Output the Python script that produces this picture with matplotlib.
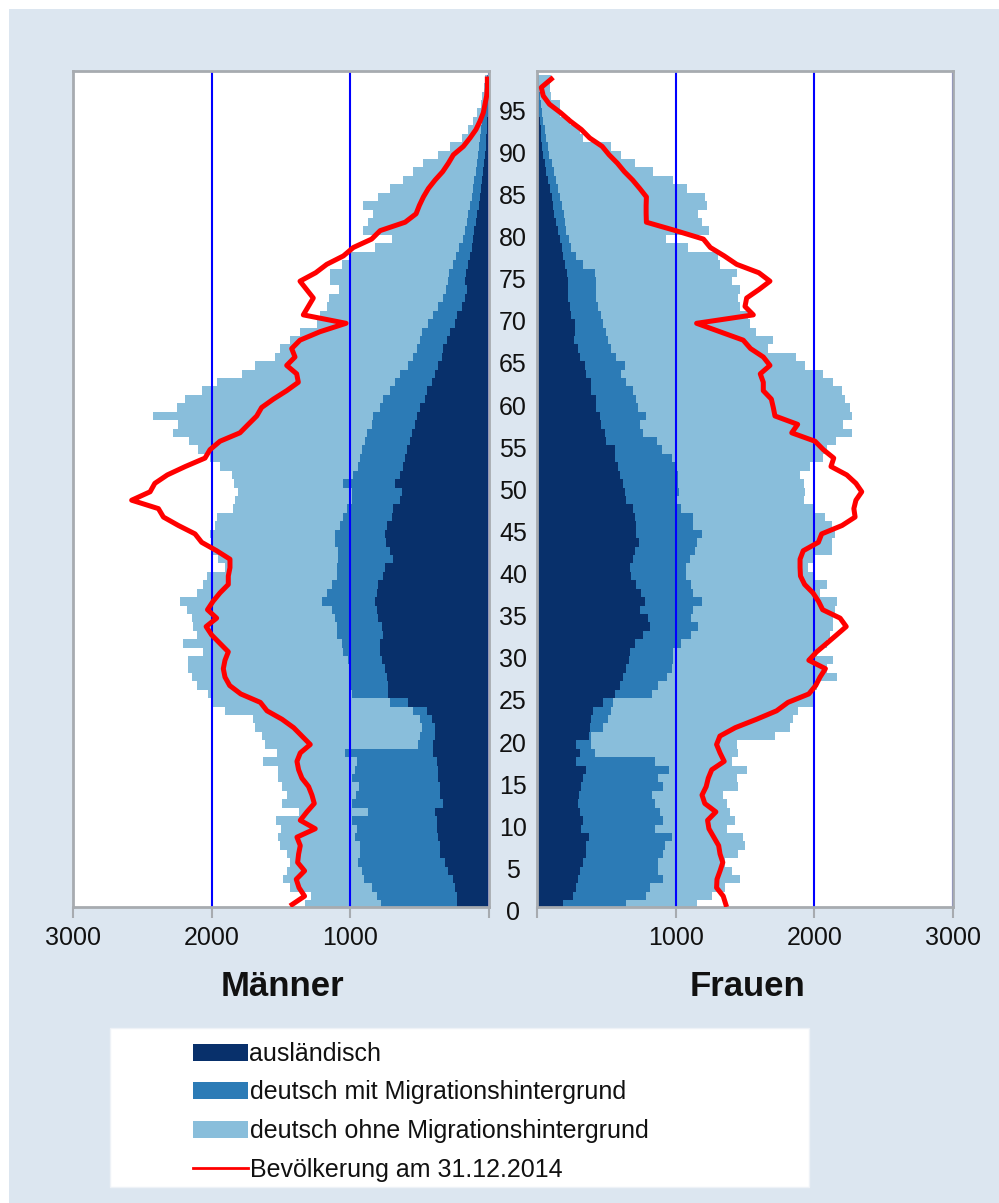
import numpy as np
import matplotlib
matplotlib.use("Agg")
import matplotlib.pyplot as plt
from matplotlib.patches import Rectangle, Patch
from matplotlib.lines import Line2D
import matplotlib.transforms as mtransforms

plt.rcParams['font.family'] = ['Liberation Sans', 'DejaVu Sans']

# Altersjahre 1..99
ages = np.arange(1, 100)

# Männer: ausländisch / deutsch mit MH / deutsch ohne MH (kumulierte Grenzen aus dem Bild gelesen)
m_ausl = [233, 233, 245, 257, 293, 317, 353, 353, 365, 377,
          377, 389, 329, 353, 353, 365, 365, 377, 401, 401,
          389, 389, 413, 449, 582, 725, 725, 737, 749, 773,
          785, 785, 761, 773, 797, 809, 821, 809, 797, 761,
          749, 689, 713, 742, 749, 737, 701, 689, 641, 629,
          677, 641, 617, 605, 593, 569, 557, 533, 521, 497,
          461, 449, 413, 389, 365, 341, 329, 305, 281, 245,
          233, 197, 173, 161, 173, 165, 150, 140, 125, 113,
          105, 95, 85, 75, 65, 58, 52, 45, 37, 29,
          25, 20, 17, 14, 10, 8, 6, 5, 4]
m_mit_cum = [778, 809, 845, 905, 918, 942, 930, 930, 966, 954,
             990, 870, 990, 960, 940, 990, 966, 954, 1038, 509,
             497, 485, 497, 545, 713, 985, 997, 1002, 1002, 1014,
             1050, 1062, 1098, 1098, 1110, 1134, 1206, 1170, 1134, 1098,
             1098, 1086, 1086, 1110, 1110, 1074, 1050, 1026, 990, 990,
             1050, 978, 942, 930, 918, 894, 882, 846, 834, 785,
             761, 713, 677, 641, 581, 545, 521, 497, 485, 437,
             401, 365, 329, 310, 293, 290, 257, 240, 215, 185,
             175, 160, 150, 140, 125, 115, 105, 95, 85, 77,
             70, 62, 55, 48, 41, 35, 28, 22, 18]
m_total = [1327, 1286, 1435, 1483, 1459, 1435, 1459, 1507, 1519, 1502,
           1536, 1368, 1495, 1459, 1495, 1519, 1519, 1628, 1531, 1616,
           1640, 1688, 1700, 1904, 2000, 2030, 2108, 2144, 2168, 2168,
           2060, 2204, 2108, 2132, 2144, 2180, 2228, 2108, 2060, 2036,
           1904, 1952, 1988, 2000, 2012, 1976, 1964, 1844, 1832, 1808,
           1840, 1853, 1937, 2010, 2095, 2167, 2276, 2240, 2420, 2250,
           2190, 2070, 1962, 1781, 1685, 1541, 1505, 1433, 1361, 1241,
           1218, 1170, 1157, 1085, 1150, 1146, 1062, 1002, 822, 700,
           906, 870, 834, 906, 798, 714, 618, 545, 473, 365,
           281, 197, 150, 113, 85, 60, 50, 35, 30]
m_2014 = [1420, 1330, 1370, 1390, 1330, 1380, 1373, 1361, 1385, 1253,
          1361, 1313, 1260, 1277, 1301, 1349, 1373, 1385, 1361, 1289,
          1349, 1409, 1493, 1601, 1649, 1790, 1870, 1904, 1916, 1904,
          1880, 1940, 2000, 2040, 1964, 2030, 1990, 1940, 1880, 1880,
          1868, 1868, 1964, 2072, 2120, 2240, 2348, 2384, 2577, 2444,
          2410, 2320, 2190, 2048, 2012, 1940, 1796, 1736, 1675, 1640,
          1555, 1459, 1375, 1387, 1459, 1399, 1423, 1363, 1219, 1031,
          1339, 1303, 1267, 1315, 1363, 1250, 1170, 1050, 978, 846,
          785, 605, 526, 502, 473, 437, 389, 334, 293, 257,
          185, 137, 94, 65, 41, 29, 17, 12, 12]

# Frauen
f_ausl = [188, 260, 284, 296, 308, 332, 351, 356, 375, 320,
          332, 308, 296, 303, 320, 332, 356, 284, 308, 284,
          375, 380, 392, 404, 477, 561, 597, 621, 645, 664,
          669, 705, 765, 814, 801, 741, 777, 753, 717, 681,
          669, 693, 705, 737, 717, 712, 705, 693, 645, 633,
          621, 597, 585, 561, 561, 501, 489, 465, 453, 424,
          428, 392, 392, 356, 344, 308, 296, 265, 272, 272,
          248, 236, 224, 224, 224, 217, 200, 188, 180, 165,
          150, 135, 125, 115, 105, 95, 80, 68, 55, 45,
          38, 32, 26, 20, 16, 13, 10, 8, 8]
f_mit_cum = [645, 789, 814, 910, 874, 874, 910, 922, 970, 850,
             910, 886, 850, 826, 910, 874, 953, 850, 416, 392,
             392, 477, 513, 537, 549, 826, 874, 934, 970, 982,
             982, 1042, 1114, 1163, 1114, 1126, 1187, 1126, 1114, 1078,
             1078, 1102, 1139, 1151, 1187, 1126, 1126, 1042, 1006, 1025,
             1020, 1018, 994, 970, 898, 862, 765, 741, 789, 729,
             717, 693, 645, 609, 633, 573, 537, 513, 501, 477,
             465, 440, 424, 428, 428, 416, 332, 284, 248, 230,
             212, 205, 192, 180, 168, 155, 138, 122, 105, 90,
             78, 68, 55, 43, 37, 30, 25, 18, 15]
f_total = [1155, 1259, 1355, 1463, 1403, 1355, 1451, 1500, 1488, 1367,
           1427, 1391, 1367, 1343, 1451, 1439, 1512, 1403, 1451, 1439,
           1716, 1825, 1849, 1885, 1993, 1993, 2017, 2161, 2089, 2137,
           2017, 2089, 2113, 2137, 2137, 2149, 2161, 2041, 2089, 2005,
           1957, 1993, 2125, 2125, 2149, 2125, 2077, 2005, 1926, 1933,
           1925, 1897, 1969, 2065, 2089, 2157, 2270, 2205, 2270, 2258,
           2222, 2198, 2137, 2065, 1933, 1868, 1668, 1704, 1579, 1536,
           1524, 1463, 1451, 1463, 1403, 1444, 1319, 1307, 1090, 930,
           1242, 1187, 1163, 1228, 1211, 1083, 982, 838, 705, 609,
           537, 332, 308, 236, 164, 164, 99, 91, 103]
f_2014 = [1362, 1343, 1295, 1298, 1320, 1340, 1320, 1310, 1275, 1240,
          1230, 1290, 1210, 1190, 1220, 1235, 1260, 1350, 1320, 1295,
          1319, 1430, 1584, 1728, 1810, 1960, 2010, 2041, 2080, 1960,
          2017, 2089, 2160, 2230, 2186, 2060, 2030, 1990, 1930, 1900,
          1897, 1897, 1920, 2029, 2053, 2200, 2294, 2285, 2300, 2342,
          2300, 2234, 2120, 2140, 2065, 2005, 1837, 1880, 1716, 1704,
          1690, 1632, 1632, 1610, 1680, 1632, 1540, 1487, 1319, 1151,
          1560, 1500, 1512, 1600, 1680, 1600, 1440, 1350, 1250, 1200,
          1000, 789, 787, 787, 789, 741, 690, 630, 580, 520,
          470, 380, 320, 240, 170, 90, 45, 31, 103]

labels = ["ausländisch", "deutsch mit Migrationshintergrund",
          "deutsch ohne Migrationshintergrund", "Bevölkerung am 31.12.2014"]
colors = ["#08306b", "#2c7bb6", "#89bedb"]
bg = "#dce6f0"

W, H = 999, 1203
fig = plt.figure(figsize=(W / 100, H / 100), dpi=100, facecolor="white")
fig.patches.append(Rectangle((9 / W, 0), 1, 1 - 9 / H, transform=fig.transFigure,
                             facecolor=bg, edgecolor="none", zorder=-10))

def px_axes(x0, y0, x1, y1):
    return fig.add_axes([x0 / W, 1 - y1 / H, (x1 - x0) / W, (y1 - y0) / H])

ax_m = px_axes(73, 71, 489, 907)
ax_f = px_axes(537, 71, 953, 907)

def draw_side(ax, ausl, mit_cum, total, line2014, grid_vals):
    ausl = np.array(ausl)
    mit_cum = np.array(mit_cum)
    total = np.array(total)
    ax.barh(ages, ausl, height=1.0, color=colors[0], linewidth=0, zorder=1)
    ax.barh(ages, mit_cum - ausl, left=ausl, height=1.0, color=colors[1], linewidth=0, zorder=1)
    ax.barh(ages, total - mit_cum, left=mit_cum, height=1.0, color=colors[2], linewidth=0, zorder=1)
    for g in grid_vals:
        ax.axvline(g, color="#0000ff", lw=1.5, zorder=2)
    ax.plot(line2014, ages, color="#ff0000", lw=3.6, zorder=3, solid_joinstyle="round")
    ax.set_ylim(0.71, 99.95)
    ax.set_yticks([])
    ax.set_xticks([0, 1000, 2000, 3000])
    ax.tick_params(axis="x", direction="out", length=8, width=1.5, color="#a7abb0",
                   labelsize=18, pad=6, labelcolor="#111111")
    for s in ax.spines.values():
        s.set_color("#a7abb0")
        s.set_linewidth(2)
    ax.set_facecolor("white")

draw_side(ax_m, m_ausl, m_mit_cum, m_total, m_2014, [0, 1000, 2000])
ax_m.set_xlim(3000, 0)
ax_m.set_xticklabels(["", "1000", "2000", "3000"])

draw_side(ax_f, f_ausl, f_mit_cum, f_total, f_2014, [1000, 2000, 3000])
ax_f.set_xlim(0, 3000)
ax_f.set_xticklabels(["", "1000", "2000", "3000"])

# Altersbeschriftung in der Mitte
trans = mtransforms.blended_transform_factory(fig.transFigure, ax_f.transData)
for a in range(0, 100, 5):
    fig.text(513 / W, a, str(a), transform=trans, ha="center", va="center",
             fontsize=18, color="#111111")

fig.text(282 / W, 1 - 987 / H, "Männer", ha="center", va="center",
         fontsize=25, fontweight="bold", color="#111111")
fig.text(747 / W, 1 - 987 / H, "Frauen", ha="center", va="center",
         fontsize=25, fontweight="bold", color="#111111")

# Legende
fig.patches.append(Rectangle((110 / W, 1 - 1187 / H), 699 / W, 159 / H,
                             transform=fig.transFigure, facecolor="white",
                             edgecolor="#eef2f7", lw=1, zorder=0))
handles = [Patch(facecolor=c, edgecolor="none") for c in colors]
handles.append(Line2D([0], [0], color="#ff0000", lw=2))
leg = fig.legend(handles, labels, loc="upper left",
                 bbox_to_anchor=(193 / W, 1 - 1042 / H), frameon=False,
                 fontsize=18, handlelength=2.2, handleheight=0.65,
                 handletextpad=0.06, labelspacing=0.58, borderpad=0,
                 borderaxespad=0)
for t in leg.get_texts():
    t.set_color("#111111")

fig.savefig("out.png", dpi=100, facecolor="white")
